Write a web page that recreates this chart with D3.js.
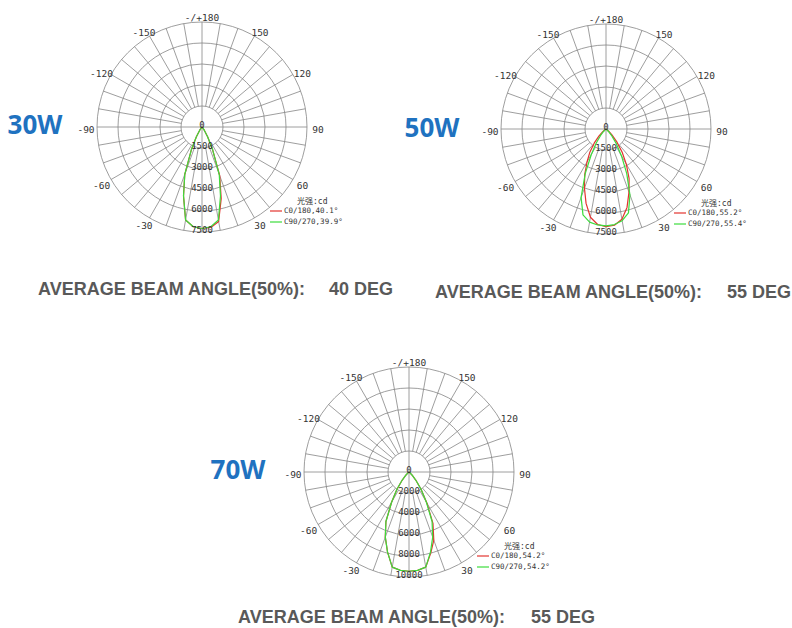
<!DOCTYPE html>
<html>
<head>
<meta charset="utf-8">
<script src="https://cdn.jsdelivr.net/npm/d3@7"></script>
<style>
  html, body { margin: 0; padding: 0; background: #ffffff; }
  svg { display: block; }
</style>
</head>
<body>
<svg id="chart" width="792" height="628"></svg>
<script>
// ---------------- DATA ----------------
const chartTitles = ["30W", "50W", "70W"];
const beamAngleTexts = ["40 DEG", "55 DEG", "55 DEG"];
const beamLabel = "AVERAGE BEAM ANGLE(50%):";
const unitLabel = "光强:cd";

// gamma angles (deg), 0 = straight down
const angles = [-60,-55,-50,-45,-40,-35,-30,-25,-20,-15,-10,-5,0,5,10,15,20,25,30,35,40,45,50,55,60];

// ring (intensity) ticks, cd
const ringTicks30W = [0, 1500, 3000, 4500, 6000, 7500];
const ringTicks50W = [0, 1500, 3000, 4500, 6000, 7500];
const ringTicks70W = [0, 2000, 4000, 6000, 8000, 10000];

// angle tick labels
const angleTicks = [180, 150, 120, 90, 60, 30, -30, -60, -90, -120, -150];

// intensity values (cd) per angle
const c0_30W  = [0,0,0,30,100,300,800,1800,3600,5100,6750,7150,7250,7200,6850,5300,3700,1800,800,300,100,30,0,0,0];
const c90_30W = [0,0,0,30,100,300,800,1800,3600,5100,6750,7150,7250,7150,6750,5100,3600,1800,800,300,100,30,0,0,0];

const c0_50W  = [0,100,300,700,1300,2000,2700,3600,4500,5500,6400,6850,6970,6900,6550,5800,4800,3900,2900,2000,1200,600,250,80,0];
const c90_50W = [0,0,80,250,600,1200,2100,3500,5200,6350,6750,6880,6920,6850,6650,6200,5000,3500,2200,1300,650,250,80,0,0];

const c0_70W  = [0,0,100,400,1000,2000,3300,5200,6600,7900,9200,9400,9450,9400,9200,8000,6900,5400,3400,2000,1000,400,100,0,0];
const c90_70W = [0,0,100,400,1000,2000,3300,5200,6600,7900,9200,9400,9450,9400,9200,7900,6600,5200,3300,2000,1000,400,100,0,0];

// legend labels
const legend30W = ["C0/180,40.1°", "C90/270,39.9°"];
const legend50W = ["C0/180,55.2°", "C90/270,55.4°"];
const legend70W = ["C0/180,54.2°", "C90/270,54.2°"];

// ---------------- LAYOUT ----------------
const W = 792, H = 628;
const R = 105;
const panels = [
  { cx: 202, cy: 127, ticks: ringTicks30W, series: [c0_30W, c90_30W], legend: legend30W,
    title: chartTitles[0], tx: 35, ty: 127, beam: beamAngleTexts[0], bx: 38, by: 295, vx: 329 },
  { cx: 606, cy: 129, ticks: ringTicks50W, series: [c0_50W, c90_50W], legend: legend50W,
    title: chartTitles[1], tx: 432, ty: 130, beam: beamAngleTexts[1], bx: 435, by: 298, vx: 727 },
  { cx: 409, cy: 472, ticks: ringTicks70W, series: [c0_70W, c90_70W], legend: legend70W,
    title: chartTitles[2], tx: 238, ty: 472, beam: beamAngleTexts[2], bx: 238, by: 623, vx: 531 }
];
const seriesColors = ["#e3342f", "#3cdc3c"];
const gridColor = "#858585";
const monoFont = "'DejaVu Sans Mono', 'Liberation Mono', monospace";

const svg = d3.select("#chart");
svg.append("rect").attr("width", W).attr("height", H).attr("fill", "#fff");

const rad = d => d * Math.PI / 180;

panels.forEach(p => {
  const g = svg.append("g").attr("transform", `translate(${p.cx},${p.cy})`);
  const maxV = p.ticks[p.ticks.length - 1];
  const r = d3.scaleLinear().domain([0, maxV]).range([0, R]);
  const r1 = r(p.ticks[1]);

  // spokes every 10 deg
  const spokes = d3.range(0, 360, 10);
  g.selectAll("line.spoke").data(spokes).join("line")
    .attr("class", "spoke")
    .attr("x1", d => (d % 90 === 0 ? 0 : r1 * Math.sin(rad(d))))
    .attr("y1", d => (d % 90 === 0 ? 0 : -r1 * Math.cos(rad(d))))
    .attr("x2", d => R * Math.sin(rad(d)))
    .attr("y2", d => -R * Math.cos(rad(d)))
    .attr("stroke", gridColor).attr("stroke-width", 0.8);

  // rings
  g.selectAll("circle.ring").data(p.ticks.slice(1)).join("circle")
    .attr("class", "ring")
    .attr("r", d => r(d))
    .attr("fill", "none")
    .attr("stroke", gridColor).attr("stroke-width", 0.8);

  // angle labels (angle measured from downward direction, positive to the right)
  g.selectAll("text.ang").data(angleTicks).join("text")
    .attr("class", "ang")
    .attr("x", d => (R + 11) * Math.sin(rad(d)))
    .attr("y", d => (R + 7) * Math.cos(rad(d)) + 3)
    .attr("text-anchor", "middle")
    .attr("dominant-baseline", "middle")
    .attr("font-family", monoFont).attr("font-size", 9.5).attr("fill", "#333")
    .text(d => d === 180 ? "-/+180" : String(d));

  // curves
  const line = d3.lineRadial()
    .angle(d => Math.PI - rad(d[0]))
    .radius(d => r(d[1]))
    .curve(d3.curveLinear);
  p.series.forEach((vals, i) => {
    const pts = angles.map((a, k) => [a, vals[k]]);
    g.append("path").attr("d", line(pts))
      .attr("fill", "none").attr("stroke", seriesColors[i]).attr("stroke-width", 1.2)
      .attr("stroke-linejoin", "round");
  });

  // ring labels
  g.selectAll("text.ringlab").data(p.ticks).join("text")
    .attr("class", "ringlab")
    .attr("x", 0)
    .attr("y", d => r(d) - 2)
    .attr("text-anchor", "middle")
    .attr("dominant-baseline", "middle")
    .attr("font-family", monoFont).attr("font-size", 9).attr("fill", "#333")
    .text(d => d);

  // legend
  g.append("text").attr("x", 95).attr("y", 74)
    .attr("dominant-baseline", "middle")
    .attr("font-family", monoFont + ", 'Noto Sans CJK SC'").attr("font-size", 8).attr("fill", "#333")
    .text(unitLabel);
  p.legend.forEach((t, i) => {
    const yy = 84 + i * 11;
    g.append("line").attr("x1", 68).attr("x2", 80).attr("y1", yy).attr("y2", yy)
      .attr("stroke", seriesColors[i]).attr("stroke-width", 1.2);
    g.append("text").attr("x", 82).attr("y", yy)
      .attr("dominant-baseline", "middle")
      .attr("font-family", monoFont).attr("font-size", 7.5).attr("fill", "#333")
      .text(t);
  });

  // title
  svg.append("text").attr("x", p.tx).attr("y", p.ty)
    .attr("text-anchor", "middle").attr("dominant-baseline", "middle")
    .attr("font-family", "'Open Sans', 'Noto Sans', sans-serif").attr("font-weight", "bold")
    .attr("font-size", 26).attr("fill", "#1f72c0")
    .text(p.title);

  // beam angle caption
  svg.append("text").attr("x", p.bx).attr("y", p.by)
    .attr("font-family", "'Liberation Sans', Arial, sans-serif").attr("font-weight", "bold")
    .attr("font-size", 18).attr("fill", "#595959")
    .text(beamLabel);
  svg.append("text").attr("x", p.vx).attr("y", p.by)
    .attr("font-family", "'Liberation Sans', Arial, sans-serif").attr("font-weight", "bold")
    .attr("font-size", 18).attr("fill", "#595959")
    .text(p.beam);
});
</script>
</body>
</html>
